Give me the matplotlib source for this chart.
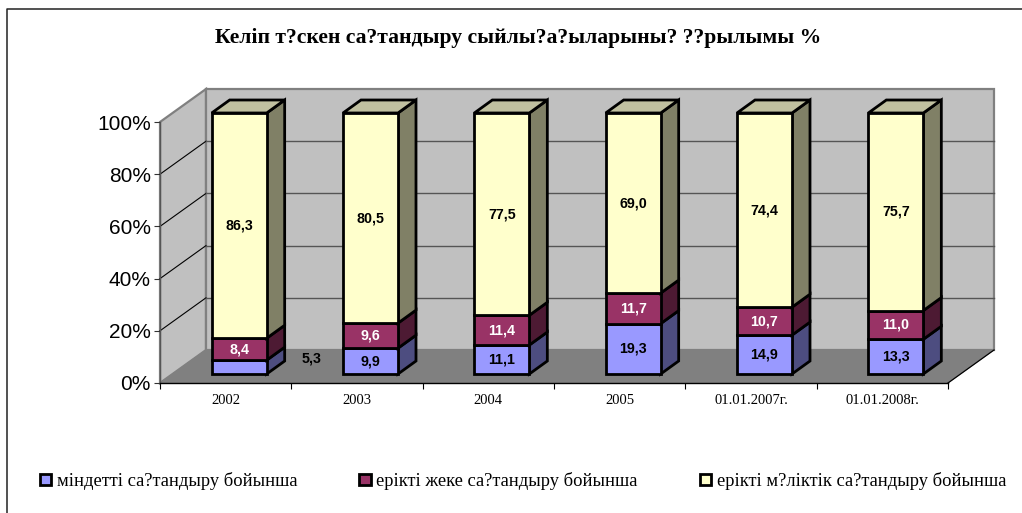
import numpy as np
import matplotlib
matplotlib.use('Agg')
from matplotlib import pyplot as plt
from matplotlib.lines import Line2D
from matplotlib.patches import Patch, Polygon

categories = ['2002', '2003', '2004', '2005', '01.01.2007г.', '01.01.2008г.']
mindetti = [5.3, 9.9, 11.1, 19.3, 14.9, 13.3]
zheke = [8.4, 9.6, 11.4, 11.7, 10.7, 11.0]
mulik = [86.3, 80.5, 77.5, 69.0, 74.4, 75.7]
y_ticks = [0, 20, 40, 60, 80, 100]
series_names = ['міндетті са?тандыру бойынша',
                'ерікті жеке са?тандыру бойынша',
                'ерікті м?ліктік са?тандыру бойынша']
title = 'Келіп т?скен са?тандыру сыйлы?а?ыларыны? ??рылымы %'

W, H = 1022, 513
# plot box in pixels of the figure
left, right, bottom, top = 160, 948, 383, 122
unit_x = (right - left) / len(categories)
unit_y = (bottom - top) / 100

# depth of the fake 3d, pixels -> data units
wall_dx, wall_dy = 46 / unit_x, 33 / unit_y
front_dx, front_dy = 13.5 / unit_x, 9 / unit_y
bar_dx, bar_dy = 18 / unit_x, 13 / unit_y
bar_w = 55 / unit_x

face_cols = ['#9999FF', '#993366', '#FFFFCC']
side_cols = ['#4D4D80', '#4D1A33', '#808066']
top_col = '#C0C0A0'
label_cols = ['black', 'white', 'black']
edge_lw = 2.0

fig = plt.figure(figsize=(W / 100, H / 100), dpi=100, facecolor='white')
ax = fig.add_axes([left / W, 1 - bottom / H, (right - left) / W, (bottom - top) / H])
ax.set_xlim(0, len(categories))
ax.set_ylim(0, 100)
ax.patch.set_visible(False)


def poly(pts, fc, ec, lw, z):
    p = Polygon(pts, closed=True, facecolor=fc, edgecolor=ec, linewidth=lw,
                zorder=z, clip_on=False, joinstyle='miter')
    ax.add_patch(p)


n = len(categories)
# walls and floor
poly([(0, 0), (wall_dx, wall_dy), (wall_dx, 100 + wall_dy), (0, 100)], '#C0C0C0', '#808080', 1.6, 1)
poly([(wall_dx, wall_dy), (n + wall_dx, wall_dy), (n + wall_dx, 100 + wall_dy), (wall_dx, 100 + wall_dy)],
     '#C0C0C0', '#808080', 1.6, 1)
poly([(0, 0), (n, 0), (n + wall_dx, wall_dy), (wall_dx, wall_dy)], '#808080', '#808080', 0.5, 2)
ax.plot([n, n + wall_dx], [0, wall_dy], color='black', lw=0.9, zorder=3, clip_on=False)

# gridlines on side and back wall
for v in y_ticks[1:-1]:
    ax.plot([0, wall_dx], [v, v + wall_dy], color='black', lw=0.8, zorder=3, clip_on=False)
    ax.plot([wall_dx, n + wall_dx], [v + wall_dy, v + wall_dy], color='#555555', lw=1.0, zorder=3, clip_on=False)

# stacked bars
for i in range(n):
    x0 = i + 0.5 - bar_w / 2 + front_dx
    x1 = x0 + bar_w
    base = front_dy
    vals = [mindetti[i], zheke[i], mulik[i]]
    for j, v in enumerate(vals):
        y0, y1 = base, base + v
        z = 10 + i + j * 0.1
        ax.bar(x0, v, width=bar_w, bottom=y0, align='edge', color=face_cols[j], edgecolor='black',
               linewidth=edge_lw, zorder=z + 0.05, clip_on=False)
        poly([(x1, y0), (x1 + bar_dx, y0 + bar_dy), (x1 + bar_dx, y1 + bar_dy), (x1, y1)],
             side_cols[j], 'black', edge_lw, z)
        if j == 2:
            poly([(x0, y1), (x1, y1), (x1 + bar_dx, y1 + bar_dy), (x0 + bar_dx, y1 + bar_dy)],
                 top_col, 'black', edge_lw, z)
        # 5,3 sits off the bar in the original
        off = (72, 9) if i == 0 and j == 0 else (0, 0)
        ax.annotate(('%.1f' % v).replace('.', ','), ((x0 + x1) / 2, (y0 + y1) / 2), xytext=off,
                    textcoords='offset pixels', ha='center', va='center', fontsize=10.3,
                    fontweight='bold', family='Liberation Sans', zorder=30,
                    color='black' if off[0] else label_cols[j], annotation_clip=False)
        base = y1

# axes
for s in ['top', 'right']:
    ax.spines[s].set_visible(False)
ax.spines['left'].set_color('#555555')
ax.spines['left'].set_linewidth(1.0)
ax.spines['bottom'].set_color('black')
ax.spines['bottom'].set_linewidth(1.0)
ax.spines['left'].set_zorder(4)
ax.spines['bottom'].set_zorder(4)
ax.set_yticks(y_ticks)
ax.set_yticklabels(['%d%%' % v for v in y_ticks], family='Liberation Sans', fontsize=15)
ax.tick_params(axis='y', length=4, width=0.8, color='#333333', pad=2.5)
ax.set_xticks(np.arange(n + 1))
ax.set_xticklabels([])
ax.set_xticks(np.arange(n) + 0.5, minor=True)
ax.set_xticklabels(categories, minor=True, family='Liberation Serif', fontsize=10.5)
ax.tick_params(axis='x', which='major', length=4, width=0.8, color='black')
ax.tick_params(axis='x', which='minor', length=0, pad=8)

fig.text(518 / W, 1 - 38 / H, title, ha='center', va='center', fontsize=15.6, fontweight='bold',
         family='Liberation Serif')

handles = [Patch(facecolor=c, edgecolor='black', linewidth=2.0) for c in face_cols]
fig.legend(handles, series_names, ncol=3, loc='center left', bbox_to_anchor=(40 / W, 1 - 481 / H),
           frameon=False, prop={'family': 'Liberation Serif', 'size': 13.3},
           handlelength=0.62, handleheight=0.62, handletextpad=0.3, columnspacing=3.35,
           borderpad=0, borderaxespad=0)

# frame of the pasted chart, only left and top show
fig.add_artist(Line2D([7 / W, 7 / W, 1], [0, 1 - 9 / H, 1 - 9 / H], color='#222222', lw=1.1))

fig.savefig('out.png', dpi=100)
